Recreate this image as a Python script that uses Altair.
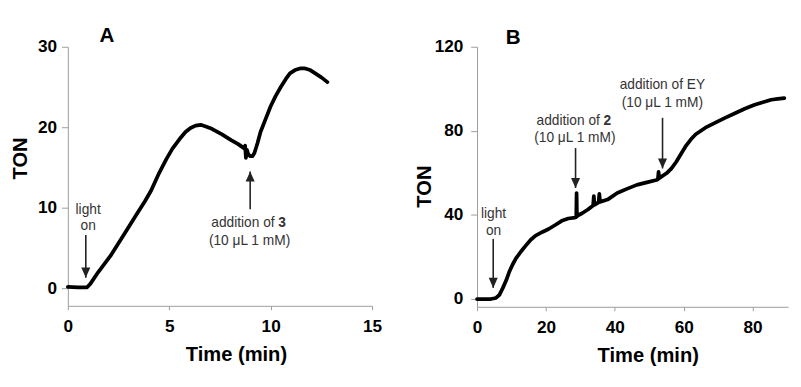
import altair as alt
import pandas as pd

# ---------------- data ----------------
# Panel A
tA = [0, 0.5, 0.95, 1.1, 1.5, 2.1, 2.9, 3.4, 3.8, 4.1, 4.5, 4.85, 5.15, 5.5, 5.8,
      6.05, 6.3, 6.55, 6.8, 7.1, 7.6, 8.05, 8.4, 8.68, 8.74, 8.78, 8.83, 8.9, 9.0,
      9.1, 9.2, 9.35, 9.5, 9.75, 10.0, 10.25, 10.5, 10.75, 10.95, 11.2, 11.45, 11.7,
      11.95, 12.2, 12.5, 12.8]
yA = [0.15, 0.1, 0.1, 0.5, 2.0, 4.0, 7.2, 9.2, 10.8, 12.1, 14.3, 16.0, 17.3, 18.5, 19.4,
      19.9, 20.2, 20.3, 20.1, 19.8, 19.1, 18.4, 17.9, 17.4, 17.7, 16.2, 17.2, 16.6, 16.4,
      16.4, 16.8, 18.0, 19.4, 21.0, 22.6, 23.9, 25.0, 26.0, 26.7, 27.1, 27.3, 27.3,
      27.1, 26.7, 26.2, 25.6]

# Panel B
tB = [0, 2, 4, 5.5, 6.5, 7.5, 8.5, 9.4, 10.3, 11.3, 12.7, 14.2, 15.6, 17.0, 19.0, 20.8,
      22.7, 24.6, 26.5, 28.4, 28.8, 28.9, 29.0, 29.1, 30.5, 32.2, 33.7, 33.9, 34.1, 35.3,
      35.5, 35.7, 37.9, 40.7, 43.5, 46.4, 49.3, 52.1, 52.5, 52.7, 52.9, 55.0, 56.4, 57.8,
      59.2, 60.7, 62.1, 63.5, 66.3, 69.2, 72.0, 74.9, 77.7, 80.6, 83.0, 85.4, 87.3, 89.2]
yB = [0, 0, 0, 0.5, 2.0, 5.3, 9.0, 13.1, 16.3, 19.3, 22.5, 25.5, 28.2, 30.2, 31.9, 33.3,
      35.2, 37.2, 38.3, 38.7, 39.0, 50.4, 39.2, 39.6, 40.8, 42.6, 44.5, 49.0, 44.8, 46.0,
      50.0, 46.2, 47.3, 50.4, 52.4, 54.3, 55.5, 56.6, 56.9, 60.5, 57.5, 59.8, 62.0, 65.2,
      69.0, 73.0, 76.0, 78.4, 81.5, 83.9, 86.2, 88.4, 90.5, 92.4, 93.6, 94.8, 95.2, 95.6]

xticksA = [0, 5, 10, 15]
yticksA = [0, 10, 20, 30]
xticksB = [0, 20, 40, 60, 80]
yticksB = [0, 40, 80, 120]

# annotations: plain text lines
notesA_t = ["light", "on", "(10 μL 1 mM)"]
notesA_x = [1.0, 1.0, 8.96]
notesA_y = [9.74, 7.67, 5.85]
notesB_t = ["light", "on", "(10 μL 1 mM)", "addition of EY", "(10 μL 1 mM)"]
notesB_x = [4.8, 4.8, 28.4, 53.8, 53.8]
notesB_y = [40.3, 32.1, 76.4, 101.8, 93.2]

# "addition of <bold n>" labels
addA_x, addA_y, addA_n = [8.96], [8.04], ["3"]
addB_x, addB_y, addB_n = [28.4], [84.6], ["2"]

# arrows: x, start y, tip y
arrA_x = [0.885, 8.99]
arrA_y0 = [6.6, 9.8]
arrA_y1 = [1.3, 14.5]
arrB_x = [4.7, 28.6, 53.85]
arrB_y0 = [28.6, 71.8, 86.2]
arrB_y1 = [5.3, 52.8, 62.1]

# panel letters
letA = (["A"], [1.93], [31.3])
letB = (["B"], [10.5], [124.2])

FONT = "Liberation Sans"
GRAY = "#9c9c9c"
TXT = "#333333"
DOWN = "M-0.45,-1L0.45,-1L0,0Z"
UP = "M-0.45,1L0.45,1L0,0Z"


def panel(t, y, xdom, ydom, xticks, yticks, w, h, nt, nx, ny, ax, ay, an,
          arx, ary0, ary1, let, xtitleX, ytitleX, ytitleY, ylabpad):
    xenc = alt.X("t:Q", scale=alt.Scale(domain=xdom, nice=False, zero=False),
                 axis=alt.Axis(values=xticks, title="Time (min)", grid=False,
                               labelFlush=False, tickSize=4, labelPadding=8,
                               titleX=xtitleX, titleY=39.6))
    yenc = alt.Y("y:Q", scale=alt.Scale(domain=ydom, nice=False, zero=False),
                 axis=alt.Axis(values=yticks, title="TON", grid=False,
                               tickSize=6.5, labelPadding=ylabpad,
                               titleX=ytitleX, titleY=ytitleY))
    line = alt.Chart(pd.DataFrame({"t": t, "y": y})).mark_line(
        color="black", strokeWidth=3.8, strokeJoin="round", strokeCap="round"
    ).encode(x=xenc, y=yenc)

    notes = alt.Chart(pd.DataFrame({"t": nx, "y": ny, "s": nt})).mark_text(
        font=FONT, fontSize=14, color=TXT, baseline="middle", align="center"
    ).encode(x=xenc, y=yenc, text="s:N")

    adf = pd.DataFrame({"t": ax, "y": ay, "s": ["addition of"] * len(ax), "n": an})
    add1 = alt.Chart(adf).mark_text(
        font=FONT, fontSize=14, color=TXT, baseline="middle", align="right", dx=25.5
    ).encode(x=xenc, y=yenc, text="s:N")
    add2 = alt.Chart(adf).mark_text(
        font=FONT, fontSize=14, color=TXT, baseline="middle", align="left",
        dx=29.3, fontWeight="bold"
    ).encode(x=xenc, y=yenc, text="n:N")

    rdf = pd.DataFrame({"t": arx, "y": ary0, "y2": ary1})
    rules = alt.Chart(rdf).mark_rule(color="#222222", strokeWidth=1.6).encode(
        x=xenc, y=yenc, y2="y2:Q")
    hdf = pd.DataFrame({"t": arx, "y": ary1,
                        "shape": [DOWN if b < a else UP for a, b in zip(ary0, ary1)]})
    heads_down = alt.Chart(hdf[hdf["shape"] == DOWN]).mark_point(
        shape=DOWN, size=420, filled=True, color="#222222", opacity=1, strokeWidth=0
    ).encode(x=xenc, y=yenc)
    heads_up = alt.Chart(hdf[hdf["shape"] == UP]).mark_point(
        shape=UP, size=420, filled=True, color="#222222", opacity=1, strokeWidth=0
    ).encode(x=xenc, y=yenc)

    letter = alt.Chart(pd.DataFrame({"t": let[1], "y": let[2], "s": let[0]})).mark_text(
        font=FONT, fontSize=21, fontWeight="bold", color="black", baseline="middle"
    ).encode(x=xenc, y=yenc, text="s:N")

    layers = [line, rules, notes, add1, add2, letter]
    if (hdf["shape"] == DOWN).any():
        layers.append(heads_down)
    if (hdf["shape"] == UP).any():
        layers.append(heads_up)
    return alt.layer(*layers).properties(width=w, height=h)


pA = panel(tA, yA, [0, 15], [-2.2, 30], xticksA, yticksA, 310, 264,
           notesA_t, notesA_x, notesA_y, addA_x, addA_y, addA_n,
           arrA_x, arrA_y0, arrA_y1, letA, 171.3, -37.7, 113.3, 5)
pB = panel(tB, yB, [0, 90.3], [-3.7, 120], xticksB, yticksB, 317, 265,
           notesB_t, notesB_x, notesB_y, addB_x, addB_y, addB_n,
           arrB_x, arrB_y0, arrB_y1, letB, 174, -43, 142, 8)

chart = alt.hconcat(pA, pB, spacing=34).properties(
    padding={"left": 3, "top": 14, "right": 5, "bottom": 5}
).configure_view(stroke=None).configure_axis(
    domainColor=GRAY, tickColor=GRAY, domainWidth=1, tickWidth=1,
    labelFont=FONT, labelFontSize=17.5, labelFontWeight="bold", labelColor="black",
    titleFont=FONT, titleFontSize=20.5, titleFontWeight="bold", titleColor="black"
)

chart.save("out.html", embed_options={"renderer": "svg", "actions": False})
